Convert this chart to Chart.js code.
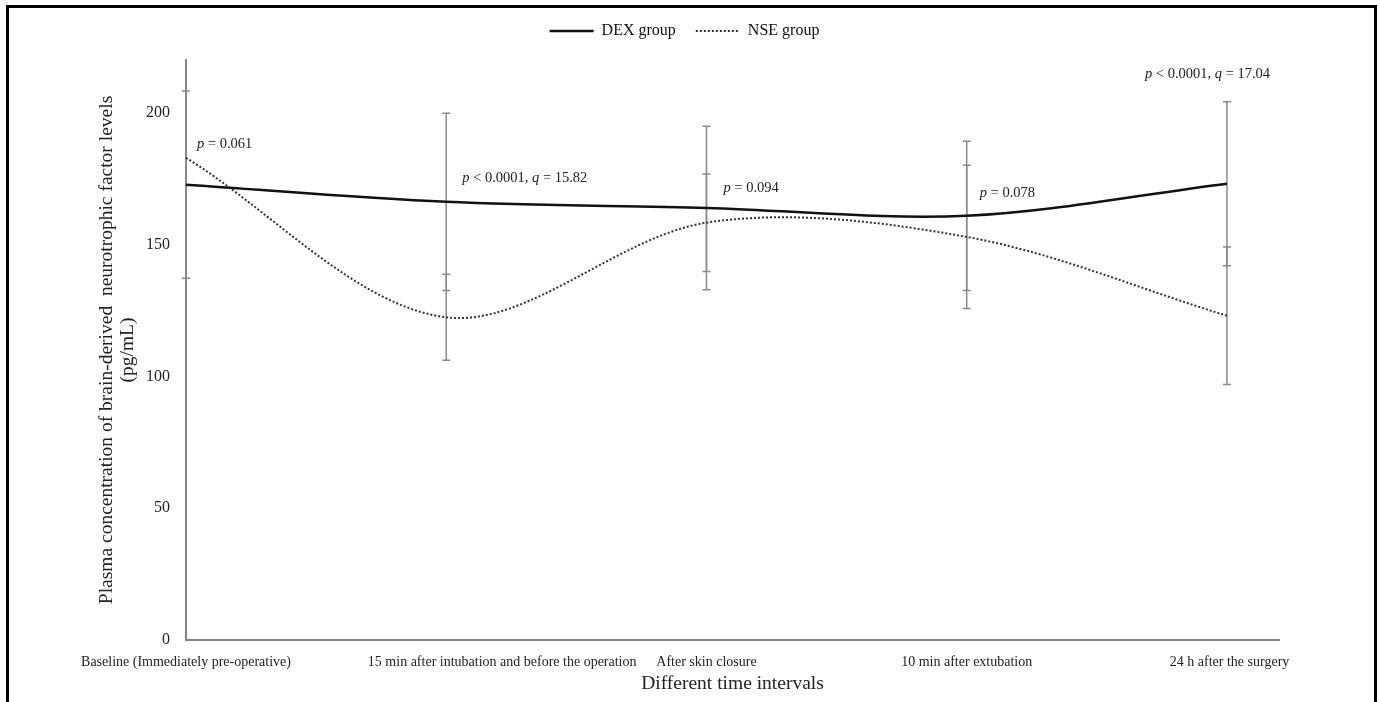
<!DOCTYPE html>
<html lang="en">
<head>
    <meta charset="UTF-8">
    <title>Plasma BDNF levels - DEX vs NSE</title>
    <script src="https://cdn.jsdelivr.net/npm/chart.js"></script>
    <style>
        html, body { margin: 0; padding: 0; background: #fff; }
        .chart-container { position: relative; width: 1380px; height: 702px; }
    </style>
</head>
<body>
    <div class="chart-container">
        <canvas id="bdnfChart"></canvas>
    </div>

    <script>
        const categories = [
            'Baseline (Immediately pre-operative)',
            '15 min after intubation and before the operation',
            'After skin closure',
            '10 min after extubation',
            '24 h after the surgery'
        ];
        const dexMean = [172.7, 166.2, 163.9, 160.9, 173.1];
        const dexSD = [35.5, 33.6, 31.0, 28.3, 31.1];
        const nseMean = [182.9, 122.4, 158.3, 152.9, 123.0];
        const nseSD = [null, 16.3, 18.5, 27.2, 26.1];
        const pLabels = ['p = 0.061', 'p < 0.0001, q = 15.82', 'p = 0.094', 'p = 0.078', 'p < 0.0001, q = 17.04'];
        const yTicks = [0, 50, 100, 150, 200];

        const serif = "'Liberation Serif', 'Times New Roman', serif";

        // where each p-value label sits: [value on y axis, px offset from the category]
        const pAnchors = [[187.9, 11], [175.3, 16], [171.5, 17], [169.3, 13], [214.8, -82]];
        // the long second label is nudged right like in the original figure
        const labelShift = [0, 0.215, 0, 0, 0.01];

        const toPoints = arr => arr.map((v, i) => ({ x: i, y: v }));

        const errorBars = {
            id: 'errorBars',
            beforeDatasetsDraw(chart) {
                const { ctx, scales: { x, y } } = chart;
                ctx.save();
                ctx.strokeStyle = '#8a8a8a';
                ctx.lineWidth = 1.5;
                [[dexMean, dexSD], [nseMean, nseSD]].forEach(([m, sd]) => {
                    m.forEach((v, i) => {
                        if (sd[i] == null) return;
                        const px = x.getPixelForValue(i);
                        const top = y.getPixelForValue(v + sd[i]);
                        const bot = y.getPixelForValue(v - sd[i]);
                        ctx.beginPath();
                        ctx.moveTo(px, top); ctx.lineTo(px, bot);
                        ctx.moveTo(px - 4, top); ctx.lineTo(px + 4, top);
                        ctx.moveTo(px - 4, bot); ctx.lineTo(px + 4, bot);
                        ctx.stroke();
                    });
                });
                ctx.restore();
            }
        };

        const pValueText = {
            id: 'pValueText',
            afterDatasetsDraw(chart) {
                const { ctx, scales: { x, y } } = chart;
                ctx.save();
                ctx.fillStyle = '#222';
                ctx.textBaseline = 'middle';
                pLabels.forEach((txt, i) => {
                    let px = x.getPixelForValue(i) + pAnchors[i][1];
                    const py = y.getPixelForValue(pAnchors[i][0]);
                    // p and q are set in italics
                    txt.split(/([pq])/).forEach(part => {
                        if (!part) return;
                        const italic = part === 'p' || part === 'q';
                        ctx.font = (italic ? 'italic ' : '') + '14.5px ' + serif;
                        ctx.fillText(part, px, py);
                        px += ctx.measureText(part).width;
                    });
                });
                ctx.restore();
            }
        };

        const frame = {
            id: 'frame',
            beforeInit(chart) {
                if (chart.legend) {
                    const fit = chart.legend.fit;
                    chart.legend.fit = function () {
                        fit.call(this);
                        this.height = 57;
                    };
                }
            },
            afterDraw(chart) {
                const ctx = chart.ctx;
                ctx.save();
                ctx.strokeStyle = '#000';
                ctx.lineWidth = 3;
                ctx.strokeRect(7.5, 6.5, 1368, 720);
                ctx.restore();
            }
        };

        const ctx = document.getElementById('bdnfChart').getContext('2d');
        new Chart(ctx, {
            type: 'line',
            data: {
                datasets: [
                    {
                        label: 'DEX group',
                        data: toPoints(dexMean),
                        borderColor: '#111',
                        borderWidth: 2.5,
                        pointRadius: 0,
                        tension: 0.33,
                        fill: false
                    },
                    {
                        label: 'NSE group',
                        data: toPoints(nseMean),
                        borderColor: '#333',
                        borderWidth: 2,
                        borderDash: [2, 2],
                        pointRadius: 0,
                        tension: 0.33,
                        fill: false
                    }
                ]
            },
            options: {
                responsive: true,
                maintainAspectRatio: false,
                animation: false,
                layout: { padding: { top: 3, left: 90, right: 101, bottom: 0 } },
                scales: {
                    x: {
                        type: 'linear',
                        min: 0,
                        max: 4.2,
                        afterBuildTicks: axis => { axis.ticks = categories.map((_, i) => ({ value: i + labelShift[i] })); },
                        afterFit: axis => { axis.height = 62; },
                        grid: { display: false },
                        border: { display: true, color: '#858585', width: 2 },
                        ticks: {
                            autoSkip: false,
                            maxRotation: 0,
                            minRotation: 0,
                            padding: 6,
                            color: '#222',
                            font: { family: serif, size: 14 },
                            callback: v => categories[Math.round(v)] ?? ''
                        },
                        title: {
                            display: true,
                            text: 'Different time intervals',
                            color: '#222',
                            font: { family: serif, size: 19.5 },
                            padding: { top: 0, bottom: 6 }
                        }
                    },
                    y: {
                        min: 0,
                        max: 220,
                        afterBuildTicks: axis => { axis.ticks = yTicks.map(v => ({ value: v })); },
                        afterFit: axis => { axis.width = 96; },
                        grid: { display: false },
                        border: { display: true, color: '#858585', width: 2 },
                        ticks: {
                            padding: 8,
                            color: '#222',
                            font: { family: serif, size: 16 }
                        },
                        title: {
                            display: true,
                            text: ['Plasma concentration of brain-derived  neurotrophic factor levels', '(pg/mL)'],
                            color: '#222',
                            font: { family: serif, size: 19.5, lineHeight: 1.05 },
                            padding: { top: 7, bottom: 0 }
                        }
                    }
                },
                plugins: {
                    legend: {
                        display: true,
                        position: 'top',
                        labels: {
                            usePointStyle: true,
                            pointStyle: 'line',
                            pointStyleWidth: 44,
                            padding: 20,
                            color: '#111',
                            font: { family: serif, size: 16 },
                            // keep the dotted pattern of each line in its legend sample
                            generateLabels: chart => Chart.defaults.plugins.legend.labels.generateLabels(chart).map(item => {
                                const ds = chart.data.datasets[item.datasetIndex];
                                item.lineDash = ds.borderDash || [];
                                item.lineWidth = ds.borderWidth;
                                item.strokeStyle = ds.borderColor;
                                return item;
                            })
                        }
                    },
                    tooltip: { enabled: false }
                }
            },
            plugins: [errorBars, pValueText, frame]
        });
    </script>
</body>
</html>
